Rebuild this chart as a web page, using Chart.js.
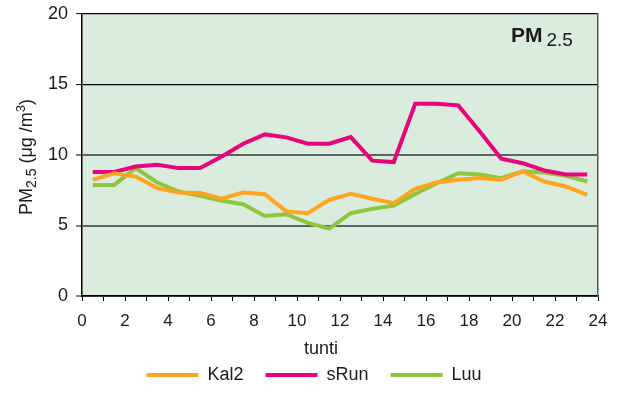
<!DOCTYPE html>
<html>
<head>
<meta charset="utf-8">
<script src="https://cdn.jsdelivr.net/npm/chart.js@4.4.0/dist/chart.umd.min.js"></script>
<style>
html, body { margin: 0; padding: 0; background: #fff; }
</style>
</head>
<body>
<canvas id="pmChart" width="620" height="394"></canvas>
<script>
// tuntikeskiarvot, PM2.5 (µg/m3)
const hours = [0.5, 1.5, 2.5, 3.5, 4.5, 5.5, 6.5, 7.5, 8.5, 9.5, 10.5, 11.5,
               12.5, 13.5, 14.5, 15.5, 16.5, 17.5, 18.5, 19.5, 20.5, 21.5, 22.5, 23.5];
const kal2 = [8.24, 8.7, 8.47, 7.65, 7.34, 7.3, 6.9, 7.34, 7.22, 6.0, 5.87, 6.82,
              7.24, 6.9, 6.58, 7.6, 8.05, 8.24, 8.36, 8.24, 8.83, 8.12, 7.77, 7.17];
const sRun = [8.8, 8.8, 9.18, 9.3, 9.07, 9.07, 9.9, 10.8, 11.46, 11.25, 10.8, 10.8,
              11.27, 9.6, 9.5, 13.64, 13.64, 13.52, 11.67, 9.73, 9.42, 8.9, 8.62, 8.62];
const luu = [7.88, 7.88, 9.07, 8.05, 7.41, 7.1, 6.75, 6.51, 5.68, 5.8, 5.18, 4.78,
             5.87, 6.18, 6.41, 7.24, 8.0, 8.71, 8.62, 8.36, 8.85, 8.76, 8.52, 8.12];
const xLabels = [0, 2, 4, 6, 8, 10, 12, 14, 16, 18, 20, 22, 24];
const yLabels = [0, 5, 10, 15, 20];

const FONT = 'Arial, "Liberation Sans", sans-serif';
const TEXT = '#1a1a1a';

const pts = arr => hours.map((h, i) => ({ x: h, y: arr[i] }));

const series = [
  { label: 'Kal2', data: pts(kal2), color: '#ffa41f' },
  { label: 'sRun', data: pts(sRun), color: '#e8047c' },
  { label: 'Luu',  data: pts(luu),  color: '#8cc63f' }
];

// taustaväri ja otsikot
const decor = {
  id: 'decor',
  beforeDraw(chart) {
    const { ctx, chartArea: a } = chart;
    ctx.save();
    ctx.fillStyle = '#d9ecdd';
    ctx.fillRect(a.left, a.top, a.right - a.left, a.bottom - a.top);
    ctx.restore();
  },
  afterDraw(chart) {
    const { ctx } = chart;
    ctx.save();
    ctx.fillStyle = TEXT;
    ctx.textBaseline = 'alphabetic';
    ctx.textAlign = 'left';

    // PM2.5 oikeassa yläkulmassa
    ctx.font = 'bold 21px ' + FONT;
    ctx.fillText('PM', 511, 42);
    let w = ctx.measureText('PM').width;
    ctx.font = '19px ' + FONT;
    ctx.fillText('2.5', 511 + w + 4, 46);

    // y-akselin otsikko
    ctx.translate(32, 215);
    ctx.rotate(-Math.PI / 2);
    let x = 0;
    const part = (t, size, dy) => {
      ctx.font = size + 'px ' + FONT;
      ctx.fillText(t, x, dy);
      x += ctx.measureText(t).width;
    };
    part('PM', 18, 0);
    part('2.5', 14, 4);
    part(' (μg /m', 18, 0);
    part('3', 13, -7);
    part(')', 18, 0);
    ctx.restore();

    // x-akselin otsikko
    ctx.save();
    ctx.fillStyle = TEXT;
    ctx.font = '18px ' + FONT;
    ctx.textAlign = 'center';
    ctx.fillText('tunti', 321, 349);
    ctx.restore();
  }
};

new Chart(document.getElementById('pmChart'), {
  type: 'line',
  data: {
    datasets: series.map(s => ({
      label: s.label,
      data: s.data,
      borderColor: s.color,
      backgroundColor: s.color,
      borderWidth: 4,
      pointRadius: 0,
      tension: 0,
      fill: false
    }))
  },
  options: {
    responsive: false,
    animation: false,
    layout: { padding: { left: 8, right: 0, top: 14, bottom: 0 } },
    plugins: {
      tooltip: { enabled: false },
      legend: {
        position: 'bottom',
        labels: {
          boxWidth: 52,
          boxHeight: 4,
          padding: 22,
          color: TEXT,
          font: { family: FONT, size: 18 },
          generateLabels: c => Chart.defaults.plugins.legend.labels.generateLabels(c)
            .map(l => Object.assign(l, { lineWidth: 0 }))
        }
      }
    },
    scales: {
      x: {
        type: 'linear',
        min: 0,
        max: 24,
        afterFit: s => { s.height = 48; },
        border: { color: '#000', width: 1.5 },
        grid: { drawOnChartArea: false, tickLength: 5, tickColor: '#000', tickWidth: 1 },
        ticks: {
          stepSize: 1,
          autoSkip: false,
          maxRotation: 0,
          padding: 10,
          color: TEXT,
          font: { family: FONT, size: 17 },
          callback: v => xLabels.includes(v) ? String(v) : ''
        }
      },
      y: {
        min: 0,
        max: 20,
        afterFit: s => { s.width = 74; s.paddingTop = 0; s.paddingBottom = 0; },
        afterBuildTicks: s => { s.ticks = yLabels.map(v => ({ value: v })); },
        border: { color: '#000', width: 1.5 },
        grid: {
          color: c => c.tick.value >= 15 ? '#000' : '#5c665e',
          lineWidth: c => c.tick.value >= 15 ? 1.2 : 2,
          tickColor: '#000',
          tickWidth: 1,
          tickLength: 6
        },
        ticks: {
          padding: 8,
          color: TEXT,
          font: { family: FONT, size: 18 }
        }
      },
      yRight: {
        position: 'right',
        min: 0,
        max: 20,
        afterFit: s => { s.width = 22; },
        border: { color: '#4f5a52', width: 1.5 },
        grid: { drawOnChartArea: false, drawTicks: false },
        ticks: { display: false }
      }
    }
  },
  plugins: [decor]
});
</script>
</body>
</html>
